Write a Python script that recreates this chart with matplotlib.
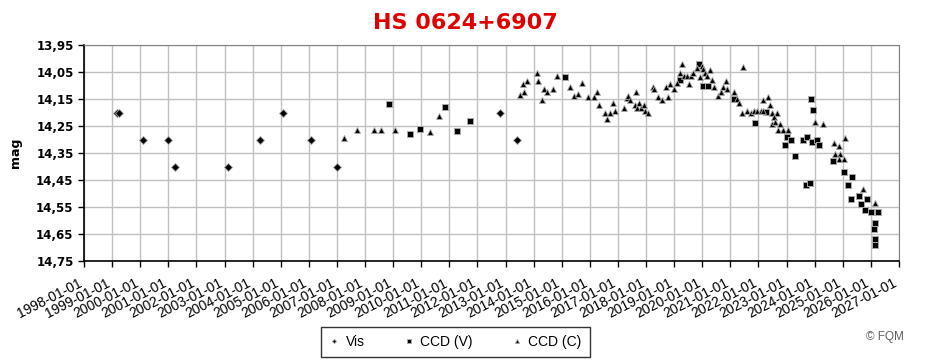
import matplotlib
matplotlib.use('Agg')
from matplotlib import pyplot as plt
import numpy as np

# Vis (diamonds)
vis_t = [1999.16, 1999.25, 2000.09, 2000.98, 2001.23, 2003.11, 2004.25, 2005.07,
         2006.07, 2007.00, 2012.79, 2013.41]
vis_m = [14.20, 14.20, 14.30, 14.30, 14.40, 14.40, 14.30, 14.20,
         14.30, 14.40, 14.20, 14.30]

# CCD (V) (squares)
ccdv_t = [2008.85, 2009.60, 2009.96, 2010.84, 2011.27, 2011.74, 2015.13,
          2019.19, 2019.90, 2020.01, 2020.19, 2021.13, 2021.88, 2022.27,
          2022.95, 2023.00, 2023.15, 2023.30, 2023.57, 2023.72, 2023.87, 2023.90,
          2023.93, 2024.07, 2024.14, 2023.68, 2023.84,
          2024.64, 2025.04, 2025.18, 2025.33, 2025.30,
          2025.58, 2025.65, 2025.85, 2025.78, 2025.99, 2026.24, 2026.15, 2026.10,
          2026.16, 2026.14]
ccdv_m = [14.167, 14.278, 14.261, 14.180, 14.267, 14.230, 14.067,
          14.080, 14.020, 14.100, 14.100, 14.149, 14.238, 14.197,
          14.319, 14.290, 14.300, 14.361, 14.301, 14.290, 14.149, 14.310,
          14.191, 14.300, 14.319, 14.469, 14.462,
          14.378, 14.419, 14.469, 14.438, 14.519,
          14.508, 14.538, 14.519, 14.560, 14.567, 14.567, 14.608, 14.630,
          14.667, 14.690]

# CCD (C) (triangles)
ccdc_t = [2007.26, 2007.73, 2008.32, 2008.57, 2009.05, 2010.31, 2010.63,
          2013.52, 2013.61, 2013.66, 2013.78, 2014.13, 2014.16, 2014.31, 2014.38,
          2014.49, 2014.70, 2014.84, 2015.31, 2015.44, 2015.59, 2015.71, 2015.95,
          2016.15, 2016.27, 2016.34, 2016.54, 2016.62, 2016.72, 2016.84, 2016.91,
          2017.22, 2017.31, 2017.36, 2017.43, 2017.64, 2017.61, 2017.67, 2017.76,
          2017.81, 2017.94, 2017.96, 2018.08, 2018.24, 2018.29, 2018.44, 2018.57,
          2018.71, 2018.79, 2018.85, 2019.00, 2019.09, 2019.21, 2019.29, 2019.35,
          2019.47, 2019.51, 2019.59, 2019.68, 2019.83, 2019.98, 2020.04, 2019.92,
          2020.10, 2020.18, 2020.28, 2020.35, 2020.42, 2020.57, 2020.66, 2020.73,
          2020.85, 2020.89, 2021.13, 2021.22, 2021.32, 2021.46, 2021.42, 2021.60,
          2021.72, 2021.84, 2021.96, 2022.09, 2022.17, 2022.15, 2022.33, 2022.41,
          2022.49, 2022.65, 2022.56, 2022.49, 2022.59, 2022.77, 2022.71, 2022.86,
          2023.04, 2024.01, 2024.28, 2024.70, 2024.86, 2025.08, 2024.74, 2024.90,
          2024.88, 2025.05, 2025.72, 2026.14]
ccdc_m = [14.293, 14.264, 14.264, 14.264, 14.264, 14.271, 14.212,
          14.135, 14.094, 14.123, 14.083, 14.053, 14.082, 14.153, 14.113,
          14.124, 14.113, 14.064, 14.104, 14.140, 14.133, 14.092, 14.141,
          14.141, 14.123, 14.171, 14.200, 14.225, 14.200, 14.164, 14.193,
          14.183, 14.147, 14.139, 14.153, 14.124, 14.172, 14.182, 14.164,
          14.182, 14.172, 14.193, 14.200, 14.107, 14.114, 14.141, 14.154,
          14.107, 14.141, 14.094, 14.114, 14.090, 14.055, 14.022, 14.065,
          14.065, 14.094, 14.065, 14.053, 14.034, 14.028, 14.040, 14.070,
          14.053, 14.065, 14.043, 14.080, 14.104, 14.138, 14.123, 14.104,
          14.082, 14.113, 14.124, 14.151, 14.164, 14.033, 14.200, 14.193,
          14.200, 14.193, 14.193, 14.193, 14.193, 14.154, 14.141, 14.172,
          14.200, 14.200, 14.218, 14.243, 14.234, 14.243, 14.265, 14.265,
          14.265, 14.234, 14.241, 14.312, 14.324, 14.293, 14.354, 14.354,
          14.372, 14.372, 14.482, 14.534]

years = list(range(1998, 2028))
year_labels = [f'{y}-01-01' for y in years]
mag_ticks = [13.95 + 0.1 * i for i in range(9)]

fig = plt.figure(figsize=(9.27, 3.64), dpi=100)
ax = fig.add_axes([84 / 927, 1 - 261 / 364, 815 / 927, 216 / 364])

edge = '#a8a8a8'
ax.plot(vis_t, vis_m, linestyle='none', marker='D', markersize=3.6,
        color='black', markeredgecolor=edge, markeredgewidth=0.6, label='Vis', zorder=3)
ax.plot(ccdv_t, ccdv_m, linestyle='none', marker='s', markersize=5,
        color='black', markeredgecolor=edge, markeredgewidth=0.7, label='CCD (V)', zorder=3)
ax.plot(ccdc_t, ccdc_m, linestyle='none', marker='^', markersize=5,
        color='black', markeredgecolor=edge, markeredgewidth=0.6, label='CCD (C)', zorder=3)

ax.set_xlim(1998, 2027)
ax.set_ylim(14.75, 13.95)
ax.set_xticks(years)
ax.set_xticklabels([])
# datumlabels schuin onder de as, iets links van de tick
for y, lab in zip(years, year_labels):
    ax.annotate(lab, xy=(y, 0), xycoords=('data', 'axes fraction'),
                xytext=(-4.3, -11.0), textcoords='offset points',
                rotation=27, rotation_mode='anchor', ha='right', va='top',
                fontsize=10, family='Liberation Sans', annotation_clip=False)
ax.set_yticks(mag_ticks)
ax.set_yticklabels([f'{v:.2f}'.replace('.', ',') for v in mag_ticks],
                   fontsize=8.5, fontweight='bold')
ax.tick_params(axis='both', direction='out', length=4, width=1, color='black')

ax.grid(True, color='#c0c0c0', linewidth=1)
ax.set_axisbelow(True)
for s in ['top', 'right']:
    ax.spines[s].set_color('#808080')
for s in ['left', 'bottom']:
    ax.spines[s].set_color('black')
    ax.spines[s].set_linewidth(1.2)

ax.set_ylabel('mag', fontsize=9, fontweight='bold', labelpad=10)

fig.text(0.502, 0.937, 'HS 0624+6907', color='#e00000', fontsize=16,
         fontweight='bold', ha='center', va='center')

leg = fig.legend(loc='center', bbox_to_anchor=(0.491, 0.06), ncol=3,
                 frameon=True, fancybox=False, edgecolor='black',
                 prop={'family': 'Liberation Sans', 'size': 10},
                 markerscale=0.6, handlelength=0.8, handletextpad=0.4,
                 columnspacing=2.8, borderpad=0.6)
leg.get_frame().set_linewidth(1)

fig.text(0.975, 0.074, '© FQM', color='#606060', fontsize=8.5,
         family='Liberation Sans', ha='right', va='center')

plt.savefig('out.png', dpi=100)
